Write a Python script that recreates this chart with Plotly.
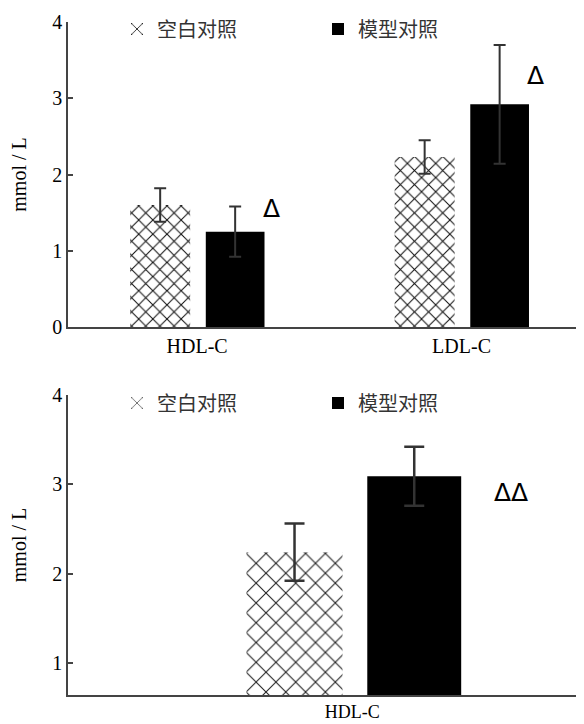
import plotly.graph_objects as go

# ---------------- data ----------------
top_categories = ["HDL-C", "LDL-C"]
top_blank = [1.60, 2.23]
top_blank_err = [0.22, 0.22]
top_model = [1.25, 2.92]
top_model_err = [0.33, 0.78]
top_sig = ["Δ", "Δ"]
top_sig_y = [1.55, 3.30]

bottom_categories = ["HDL-C"]
bottom_blank = [2.24]
bottom_blank_err = [0.32]
bottom_model = [3.09]
bottom_model_err = [0.33]
bottom_sig = ["ΔΔ"]
bottom_sig_y = [2.91]

series_names = ["空白对照", "模型对照"]
y_title = "mmol / L"
top_yticks = [0, 1, 2, 3, 4]
bottom_yticks = [1, 2, 3, 4]

# ---------------- style ----------------
# the page body has an 8px margin, so the figure is 8px smaller than the window
W, H = 576, 716
SERIF = "Liberation Serif, Times New Roman, serif"
CJK = "Noto Sans CJK SC, sans-serif"
AX = "#444444"
ERR = "#333333"

fig = go.Figure()

# top panel
fig.add_trace(go.Bar(
    x=top_categories, y=top_blank, name=series_names[0], legend="legend",
    xaxis="x", yaxis="y", offset=-0.253, width=0.227,
    marker=dict(color="white", line=dict(width=0),
                pattern=dict(shape="x", size=10, solidity=0.2,
                             fgcolor="#111111", bgcolor="white")),
    error_y=dict(type="data", array=top_blank_err, color=ERR, thickness=2, width=6),
))
fig.add_trace(go.Bar(
    x=top_categories, y=top_model, name=series_names[1], legend="legend",
    xaxis="x", yaxis="y", offset=0.033, width=0.222,
    marker=dict(color="black", line=dict(width=0)),
    error_y=dict(type="data", array=top_model_err, color=ERR, thickness=2, width=6),
))

# bottom panel
fig.add_trace(go.Bar(
    x=bottom_categories, y=bottom_blank, name=series_names[0], legend="legend2",
    xaxis="x2", yaxis="y2", offset=-0.205, width=0.186,
    marker=dict(color="white", line=dict(width=0),
                pattern=dict(shape="x", size=14, solidity=0.15,
                             fgcolor="#222222", bgcolor="white")),
    error_y=dict(type="data", array=bottom_blank_err, color=ERR, thickness=2.5, width=10),
))
fig.add_trace(go.Bar(
    x=bottom_categories, y=bottom_model, name=series_names[1], legend="legend2",
    xaxis="x2", yaxis="y2", offset=0.029, width=0.182,
    marker=dict(color="black", line=dict(width=0)),
    error_y=dict(type="data", array=bottom_model_err, color=ERR, thickness=2.5, width=10),
))

# significance marks
annotations = []
for i, (s, yv) in enumerate(zip(top_sig, top_sig_y)):
    annotations.append(dict(x=i + 0.28, y=yv, xref="x", yref="y", text=s,
                            showarrow=False, font=dict(family="DejaVu Sans", size=25, color="black")))
for i, (s, yv) in enumerate(zip(bottom_sig, bottom_sig_y)):
    annotations.append(dict(x=i + 0.308, y=yv, xref="x2", yref="y2", text=s,
                            showarrow=False, font=dict(family="DejaVu Sans", size=25, color="black")))

xdom = [60 / W, 1.0]
top_dom = [1 - 319 / H, 1 - 14 / H]
bot_dom = [1 - 687 / H, 1 - 387 / H]

yaxis_common = dict(
    showline=True, linecolor=AX, linewidth=1.5, ticks="inside", ticklen=5,
    tickcolor=AX, tickwidth=1.5, showgrid=False, zeroline=False,
    tickfont=dict(family=SERIF, size=20, color="black"),
    title=dict(text=y_title, font=dict(family=SERIF, size=20, color="black"), standoff=23),
    automargin=False, fixedrange=True,
)
xaxis_common = dict(
    type="category", showline=True, linecolor=AX, linewidth=1.5, ticks="",
    showgrid=False, zeroline=False,
    automargin=False, fixedrange=True,
)

legend_common = dict(
    orientation="h", xref="paper", yref="paper",
    xanchor="left", yanchor="middle", entrywidth=156, entrywidthmode="pixels",
    font=dict(family=CJK, size=20, color="#333333"),
    bgcolor="rgba(0,0,0,0)", borderwidth=0, traceorder="normal",
)

fig.update_layout(
    width=W, height=H, template="none",
    paper_bgcolor="white", plot_bgcolor="white",
    margin=dict(l=0, r=0, t=0, b=0, autoexpand=False),
    showlegend=True, barmode="overlay",
    xaxis=dict(domain=xdom, anchor="y", range=[-0.488, 1.463],
               tickfont=dict(family=SERIF, size=20, color="black"), **xaxis_common),
    yaxis=dict(domain=top_dom, anchor="x", range=[0, 4], tickvals=top_yticks, **yaxis_common),
    xaxis2=dict(domain=xdom, anchor="y2", range=[-0.551, 0.449],
                tickfont=dict(family=SERIF, size=18, color="black"), **xaxis_common),
    yaxis2=dict(domain=bot_dom, anchor="x2", range=[0.64, 4], tickvals=bottom_yticks, **yaxis_common),
    legend=dict(x=109 / W, y=1 - 21 / H, **legend_common),
    legend2=dict(x=109 / W, y=1 - 395 / H, **legend_common),
    annotations=annotations,
)

fig.write_html("out.html")
